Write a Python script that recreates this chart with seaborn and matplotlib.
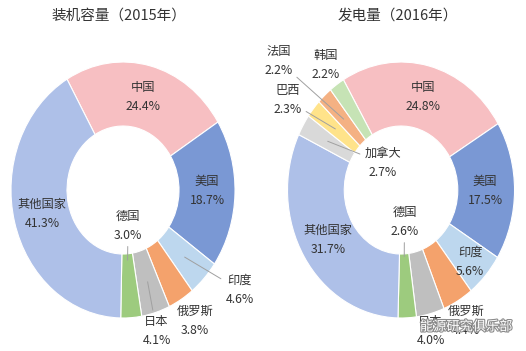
import matplotlib
matplotlib.use('Agg')
import numpy as np
import seaborn as sns
import matplotlib.pyplot as plt
import matplotlib.patheffects as pe

sns.set_theme(style='white')
plt.rcParams['font.family'] = ['Noto Sans CJK SC', 'DejaVu Sans']

# 装机容量 (2015)
cap_names = ['中国', '美国', '印度', '俄罗斯', '日本', '德国', '其他国家']
cap_share = [24.4, 18.7, 4.6, 3.8, 4.1, 3.0, 41.3]

# 发电量 (2016)
gen_names = ['中国', '美国', '印度', '俄罗斯', '日本', '德国', '其他国家',
             '加拿大', '巴西', '法国', '韩国']
gen_share = [24.8, 17.5, 5.6, 4.4, 4.0, 2.6, 31.7, 2.7, 2.3, 2.2, 2.2]

colors = {'中国': '#F7BFC2', '美国': '#7A98D4', '印度': '#BDD7EE',
          '俄罗斯': '#F4A26C', '日本': '#BFBFBF', '德国': '#9DCB7E',
          '其他国家': '#AEC0E8', '加拿大': '#D9D9D9', '巴西': '#FFE38A',
          '法国': '#F4B183', '韩国': '#C6E3B5'}

# label placement (axes data units) and leader-line anchor radius
cap_pos = {'中国': (0.18, 0.73), '美国': (0.75, -0.01), '印度': (1.04, -0.78),
           '俄罗斯': (0.64, -1.02), '日本': (0.30, -1.10), '德国': (0.045, -0.28),
           '其他国家': (-0.72, -0.19)}
cap_lead = {'印度': 0.76, '日本': 0.75, '德国': 0.55}

gen_pos = {'中国': (0.19, 0.73), '美国': (0.74, -0.01), '印度': (0.61, -0.56),
           '俄罗斯': (0.57, -1.02), '日本': (0.26, -1.10), '德国': (0.03, -0.25),
           '其他国家': (-0.64, -0.39), '加拿大': (-0.16, 0.21), '巴西': (-1.0, 0.70),
           '法国': (-1.08, 1.01), '韩国': (-0.66, 0.98)}
gen_lead = {'德国': 0.52, '加拿大': 0.75, '巴西': 0.75, '法国': 0.75}

fig = plt.figure(figsize=(5.26, 3.51), dpi=100)
fig.patch.set_facecolor('white')

LBL = dict(ha='center', va='center', fontsize=8.8, color='#333333', linespacing=1.6)


def donut(rect, names, share, pos, lead, start):
    ax = fig.add_axes(rect)
    wedges, _ = ax.pie(share, colors=[colors[n] for n in names], startangle=start,
                       counterclock=False, radius=1,
                       wedgeprops=dict(width=0.5, edgecolor='white', linewidth=0.8))
    ax.set_aspect('auto')
    ax.set_xlim(-1, 1)
    ax.set_ylim(-1, 1)
    for w, n, v in zip(wedges, names, share):
        txt = f'{n}\n{v:.1f}%'
        tx, ty = pos[n]
        if n in lead:
            mid = np.deg2rad((w.theta1 + w.theta2) / 2)
            r = lead[n]
            ax.annotate(txt, xy=(r * np.cos(mid), r * np.sin(mid)), xytext=(tx, ty),
                        arrowprops=dict(arrowstyle='-', color='#A0A0A0', lw=0.7,
                                        shrinkA=1, shrinkB=0), **LBL)
        else:
            ax.text(tx, ty, txt, **LBL)
    return ax


donut([0.0209, 0.094, 0.4259, 0.7293], cap_names, cap_share, cap_pos, cap_lead, 120)
donut([0.5466, 0.094, 0.4316, 0.7293], gen_names, gen_share, gen_pos, gen_lead, 120.5)

fig.text(119 / 526, 1 - 16 / 351, '装机容量（2015年）', ha='center', va='center',
         fontsize=10.5, color='#333333')
fig.text(398 / 526, 1 - 16 / 351, '发电量（2016年）', ha='center', va='center',
         fontsize=10.5, color='#333333')

wm = fig.text(420 / 526, 1 - 327 / 351, '能源研究俱乐部', ha='left', va='center',
              fontsize=9.5, color='white')
wm.set_path_effects([pe.withStroke(linewidth=1.6, foreground='#8C8C8C')])

fig.savefig('out.png', dpi=100)
